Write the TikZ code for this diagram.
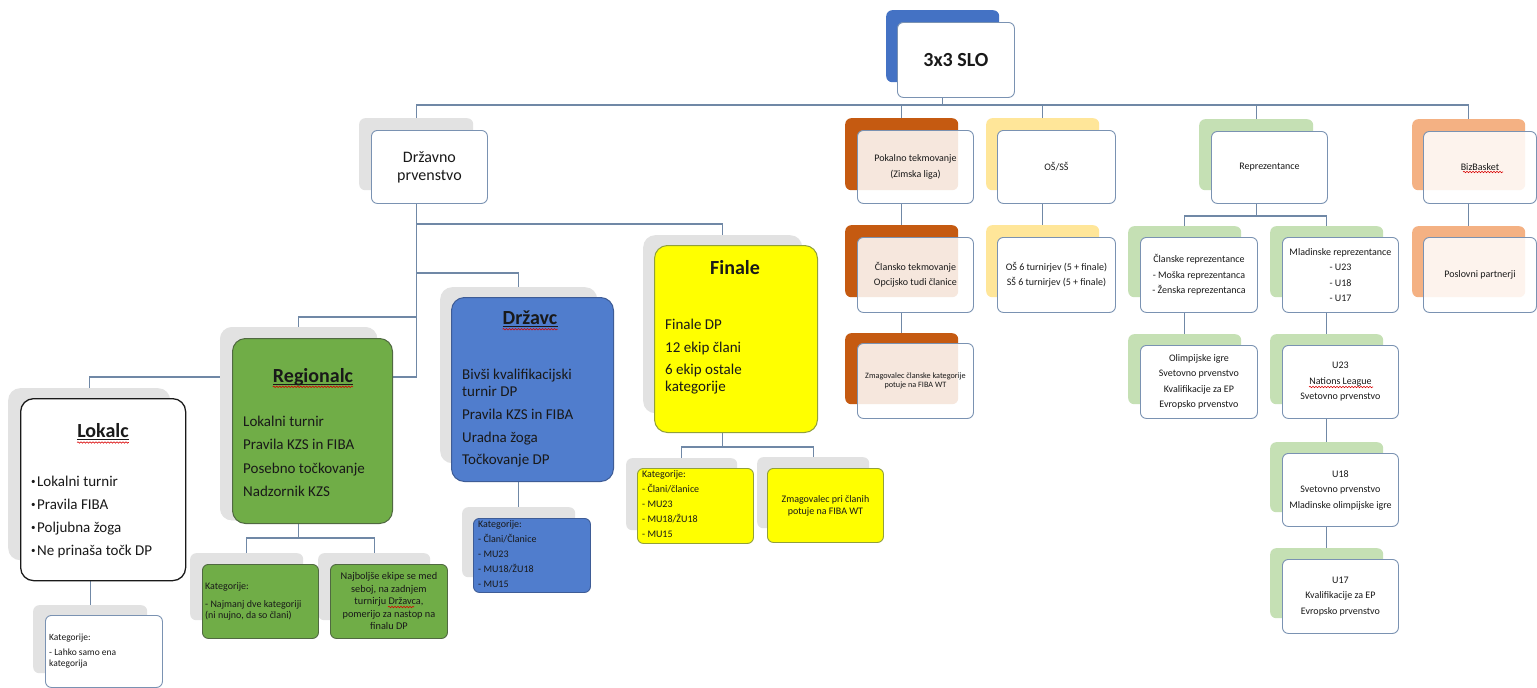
\documentclass[tikz,border=0pt]{standalone}
\usepackage{fontspec}
\setmainfont{Carlito}
\usetikzlibrary{decorations.pathmorphing}
\definecolor{linec}{RGB}{112,136,166}
\definecolor{bordc}{RGB}{122,146,178}
\definecolor{shgray}{RGB}{226,226,226}
\definecolor{tblue}{RGB}{68,114,196}
\definecolor{dblue}{RGB}{80,125,205}
\definecolor{dbluebord}{RGB}{62,92,150}
\definecolor{gfill}{RGB}{112,173,71}
\definecolor{gbord}{RGB}{80,105,65}
\definecolor{yfill}{RGB}{255,255,0}
\definecolor{ybord}{RGB}{145,160,60}
\definecolor{dorange}{RGB}{197,90,17}
\definecolor{lorange}{RGB}{244,177,131}
\definecolor{lyellow}{RGB}{255,230,153}
\definecolor{lgreen}{RGB}{197,224,180}
\definecolor{txtc}{RGB}{25,25,25}
\newcommand\boxat[7]{\node[#2, anchor=north west, minimum width={(#5)-(#3)}, minimum height={(#6)-(#4)}] (#1) at (#3,#4) {#7};}
\newcommand\fs[2]{\fontsize{#1}{#2}\selectfont}
\newcommand\bul{\raisebox{2.5pt}{\fs{9}{9}•}\hspace{1.5pt}}
\begin{document}
\begin{tikzpicture}[x=1pt,y=-1pt,
  conn/.style={draw=linec, line width=1.2pt},
  shd/.style={inner sep=0pt, rounded corners=6pt, fill=#1},
  bigshd/.style={inner sep=0pt, rounded corners=12pt, fill=#1},
  fr/.style={inner sep=0pt, draw=bordc, line width=0.9pt, fill=white, rounded corners=6pt, align=center, text=txtc, font=\fs{10}{15.5}},
  see/.style={fill opacity=0.86, text opacity=1},
  smcol/.style={inner sep=0pt, draw=#1, line width=0.9pt, rounded corners=6pt},
  bigcol/.style={inner sep=0pt, draw=#1, line width=1pt, rounded corners=13pt},
  ttl/.style={inner sep=0pt, text=txtc, font=\bfseries\fs{20}{24}},
  body/.style={inner sep=0pt, anchor=north west, align=left, text=txtc},
  wave/.style={draw=red!85!black, line width=0.6pt, decorate, decoration={snake, amplitude=0.7pt, segment length=3pt}},
  uline/.style={draw=txtc, line width=0.9pt}]
\fill[white] (0,0) rectangle (1537,688);
\useasboundingbox (0,0) rectangle (1537,688);

% ---------- shadows ----------
\boxat{tops}{shd=tblue}{886}{10}{999}{82}{}
\boxat{dps}{shd=shgray}{359}{118}{473}{190}{}
\boxat{poks}{shd=dorange}{845}{118}{958}{190}{}
\boxat{clts}{shd=dorange}{845}{225}{958}{297}{}
\boxat{zmks}{shd=dorange}{845}{333}{958}{404}{}
\boxat{oss}{shd=lyellow}{986}{118}{1099}{190}{}
\boxat{os6s}{shd=lyellow}{986}{225}{1099}{297}{}
\boxat{reps}{shd=lgreen}{1199}{119}{1313}{190}{}
\boxat{creps}{shd=lgreen}{1128}{226}{1241}{297}{}
\boxat{mreps}{shd=lgreen}{1270}{226}{1383}{297}{}
\boxat{olis}{shd=lgreen}{1128}{334}{1241}{404}{}
\boxat{u23s}{shd=lgreen}{1270}{334}{1383}{404}{}
\boxat{u18s}{shd=lgreen}{1270}{442}{1383}{512}{}
\boxat{u17s}{shd=lgreen}{1270}{548}{1383}{618}{}
\boxat{bizs}{shd=lorange}{1412}{119}{1525}{190}{}
\boxat{poss}{shd=lorange}{1412}{226}{1525}{297}{}
\boxat{fins}{bigshd=shgray}{643}{235}{802}{413}{}
\boxat{fkats}{shd=shgray}{626}{458}{737}{530}{}
\boxat{zpcs}{shd=shgray}{757}{457}{869}{528}{}
\boxat{drzs}{bigshd=shgray}{440}{287}{597}{463}{}
\boxat{dkats}{shd=shgray}{462}{507}{575}{577}{}
\boxat{regs}{bigshd=shgray}{220}{327}{377}{520}{}
\boxat{rkats}{shd=shgray}{190}{553}{303}{620}{}
\boxat{najs}{shd=shgray}{318}{553}{430}{620}{}
\boxat{loks}{bigshd=shgray}{8}{388}{170}{560}{}
\boxat{lkats}{shd=shgray}{33}{605}{147}{673}{}

% ---------- connectors ----------
\draw[conn] (tops.center |- 0,97) -- (tops.center |- 0,105);
\draw[conn] (dps.north) -- (dps.north |- 0,105) -- (bizs.north |- 0,105) -- (bizs.north);
\draw[conn] (poks.north) -- (poks.north |- 0,105);
\draw[conn] (oss.north) -- (oss.north |- 0,105);
\draw[conn] (reps.north) -- (reps.north |- 0,105);
\draw[conn] (poks.center |- 0,203) -- (clts.north);
\draw[conn] (clts.center |- 0,312) -- (zmks.north);
\draw[conn] (oss.center |- 0,203) -- (os6s.north);
\draw[conn] (reps.center |- 0,203) -- (reps.center |- 0,216);
\draw[conn] (creps.north) |- (mreps.north |- 0,216) -- (mreps.north);
\draw[conn] (creps.center |- 0,312) -- (olis.north);
\draw[conn] (mreps.center |- 0,312) -- (u23s.north);
\draw[conn] (u23s.center |- 0,418) -- (u18s.north);
\draw[conn] (u18s.center |- 0,526) -- (u17s.north);
\draw[conn] (bizs.center |- 0,203) -- (poss.north);
\draw[conn] (dps.center |- 0,203) -- (dps.center |- 0,377) -| (loks.north);
\draw[conn] (dps.center |- 0,224) -| (fins.north);
\draw[conn] (dps.center |- 0,273) -| (drzs.north);
\draw[conn] (dps.center |- 0,317) -| (regs.north);
\draw[conn] (fins.center |- 0,432) -- (fins.center |- 0,447);
\draw[conn] (fkats.north) |- (zpcs.north |- 0,447) -- (zpcs.north);
\draw[conn] (drzs.center |- 0,481) -- (dkats.north);
\draw[conn] (regs.center |- 0,523) -- (regs.center |- 0,538);
\draw[conn] (rkats.north) |- (najs.north |- 0,538) -- (najs.north);
\draw[conn] (lkats.north |- 0,578) -- (lkats.north);

% the Lokalc connector runs behind the Regionalc shadow
\fill[shgray, rounded corners=12pt] (regs.north west) rectangle (regs.south east);

% ---------- front boxes ----------
\boxat{top}{fr, font=\bfseries\fs{20}{24}}{897}{22}{1014}{97}{3x3 SLO}
\boxat{dp}{fr, font=\fs{16}{18}}{371}{130}{487}{203}{Državno\\prvenstvo}
\boxat{pok}{fr, see}{857}{130}{973}{203}{Pokalno tekmovanje\\(Zimska liga)}
\boxat{clt}{fr, see}{857}{237}{973}{312}{Člansko tekmovanje\\Opcijsko tudi članice}
\boxat{zmk}{fr, see, font=\fs{8.2}{9.5}}{857}{343}{973}{418}{Zmagovalec članske kategorije\\potuje na FIBA WT}
\boxat{os}{fr}{997}{130}{1115}{203}{OŠ/SŠ}
\boxat{os6}{fr}{997}{237}{1115}{312}{OŠ 6 turnirjev (5 + finale)\\SŠ 6 turnirjev (5 + finale)}
\boxat{rep}{fr}{1211}{131}{1327}{203}{Reprezentance}
\boxat{crep}{fr}{1140}{237}{1257}{312}{Članske reprezentance\\- Moška reprezentanca\\- Ženska reprezentanca}
\boxat{mrep}{fr}{1282}{237}{1398}{312}{Mladinske reprezentance\\- U23\\- U18\\- U17}
\boxat{oli}{fr}{1140}{345}{1257}{418}{Olimpijske igre\\Svetovno prvenstvo\\Kvalifikacije za EP\\Evropsko prvenstvo}
\boxat{u23}{fr}{1282}{345}{1398}{418}{U23\\Nations League\\Svetovno prvenstvo}
\boxat{u18}{fr}{1282}{453}{1398}{526}{U18\\Svetovno prvenstvo\\Mladinske olimpijske igre}
\boxat{u17}{fr}{1282}{559}{1398}{633}{U17\\Kvalifikacije za EP\\Evropsko prvenstvo}
\boxat{biz}{fr, see}{1423}{131}{1536}{203}{BizBasket}
\boxat{pos}{fr, see}{1423}{237}{1536}{312}{Poslovni partnerji}

% Finale branch
\boxat{fin}{bigcol=ybord, fill=yfill}{654}{245}{817}{432}{}
\boxat{fkat}{smcol=ybord, fill=yfill}{637}{468}{753}{543}{}
\boxat{zpc}{smcol=ybord, fill=yfill, align=center, text=txtc, font=\fs{10}{12}}{767}{468}{883}{542}{Zmagovalec pri članih\\potuje na FIBA WT}
% Drzavc branch
\boxat{drz}{bigcol=dbluebord, fill=dblue}{451}{297}{613}{481}{}
\boxat{dkat}{smcol=dbluebord, fill=dblue}{473}{518}{590}{592}{}
% Regionalc branch
\boxat{reg}{bigcol=gbord, fill=gfill}{232}{338}{392}{523}{}
\boxat{rkat}{smcol=gbord, fill=gfill}{202}{564}{318}{638}{}
\boxat{naj}{smcol=gbord, fill=gfill, align=center, text=txtc, font=\fs{10.3}{12.5}}{330}{564}{447}{638}{Najboljše ekipe se med\\seboj, na zadnjem\\turnirju Državca,\\pomerijo za nastop na\\finalu DP}
% Lokalc branch
\boxat{lok}{bigcol=txtc, line width=1.3pt, fill=white}{20}{398}{185}{580}{}
\boxat{lkat}{fr}{45}{615}{162}{687}{}

% ---------- texts in the large boxes ----------
\node[ttl] (fint) at (735,268) {Finale};
\node[body, font=\fs{15}{17}] (finb) at (665,319) {Finale DP\\[6pt]12 ekip člani\\[5pt]6 ekip ostale\\kategorije};
\node[body, font=\fs{10}{15}] (fkatb) at (642,470.5) {Kategorije:\\- Člani/članice\\- MU23\\- MU18/ŽU18\\- MU15};

\node[ttl] (drzt) at (530,318) {Državc};
\node[body, font=\fs{15}{17}] (drzb) at (462,369) {Bivši kvalifikacijski\\turnir DP\\[6pt]Pravila KZS in FIBA\\[6pt]Uradna žoga\\[5pt]Točkovanje DP};
\node[body, font=\fs{10}{15}] (dkatb) at (478,520.5) {Kategorije:\\- Člani/Članice\\- MU23\\- MU18/ŽU18\\- MU15};

\node[ttl] (regt) at (313,377) {Regionalc};
\node[body, font=\fs{15}{23.3}] (regb) at (243,416) {Lokalni turnir\\Pravila KZS in FIBA\\Posebno točkovanje\\Nadzornik KZS};
\node[body, font=\fs{10}{11}] (rkatb) at (205,582) {Kategorije:\\[7pt]- Najmanj dve kategoriji\\(ni nujno, da so člani)};

\node[ttl] (lokt) at (103,431) {Lokalc};
\node[body, font=\fs{15}{23}] (lokb) at (31,476) {\bul Lokalni turnir\\\bul Pravila FIBA\\\bul Poljubna žoga\\\bul Ne prinaša točk DP};
\node[body, font=\fs{9.5}{10.5}] (lkatb) at (49,634) {Kategorije:\\[4.5pt]- Lahko samo ena\\kategorija};

% ---------- underlines and spell-check waves ----------
\foreach \t in {lokt, regt, drzt} {
  \draw[uline] ([yshift=-2pt]\t.base west) -- ([yshift=-2pt]\t.base east);
  \draw[wave] ([yshift=-4.5pt]\t.base west) -- ([yshift=-4.5pt]\t.base east);
}
\draw[wave] (1463,172) -- (1503,172);
\draw[wave] (1309,387) -- (1373,387);
\draw[wave] (388,607) -- (414,607);
\end{tikzpicture}
\end{document}
